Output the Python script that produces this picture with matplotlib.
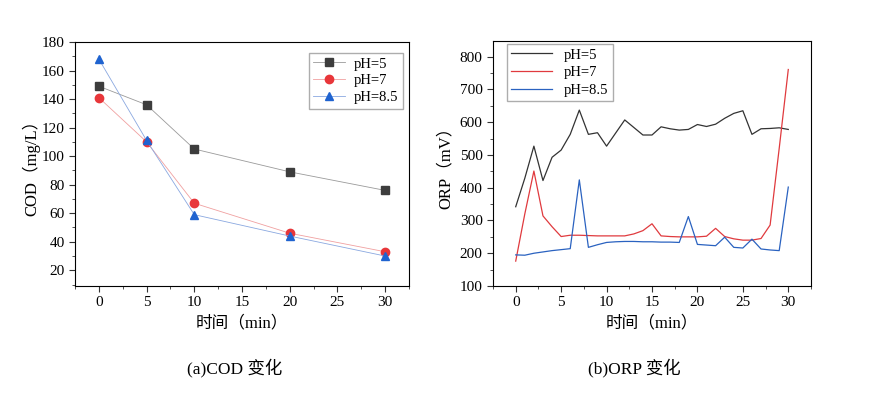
import matplotlib
matplotlib.use("Agg")
import matplotlib.pyplot as plt
from matplotlib.ticker import MultipleLocator

plt.rcParams['font.family'] = ['Liberation Serif', 'Noto Sans CJK SC']
plt.rcParams['axes.unicode_minus'] = False

# COD data
cod_t = [0, 5, 10, 20, 30]
cod_ph5 = [149, 136, 105, 89, 76]
cod_ph7 = [141, 110, 67, 46, 33]
cod_ph85 = [168, 111, 59, 44, 30]

# ORP data
orp_t = list(range(31))
orp_ph5 = [342, 429, 527, 422, 493, 515, 563, 637, 563, 568, 527, 567, 607, 584, 561, 561,
           586, 580, 576, 578, 593, 587, 594, 612, 627, 635, 563, 580, 581, 583, 578]
orp_ph7 = [176, 320, 451, 314, 281, 251, 255, 255, 254, 253, 253, 253, 253, 259, 269, 290,
           253, 251, 250, 250, 250, 252, 276, 251, 244, 240, 240, 245, 286, 520, 761]
orp_ph85 = [195, 194, 200, 204, 208, 211, 214, 424, 218, 226, 233, 235, 236, 236, 235, 235,
            234, 234, 233, 312, 227, 225, 223, 249, 218, 216, 243, 213, 210, 208, 402]

labels = ['pH=5', 'pH=7', 'pH=8.5']

fig = plt.figure(figsize=(8.84, 3.93), dpi=100)
W, H = 884, 393
ax1 = fig.add_axes([75 / W, 1 - 286 / H, (409 - 75) / W, (286 - 42) / H])
ax2 = fig.add_axes([493 / W, 1 - 286 / H, (811 - 493) / W, (286 - 41) / H])

# (a) COD
ax1.plot(cod_t, cod_ph5, color='#9a9a9a', lw=0.6, marker='s', ms=5.5,
         mfc='#3d3d3d', mec='#3d3d3d', label=labels[0])
ax1.plot(cod_t, cod_ph7, color='#f0a0a0', lw=0.6, marker='o', ms=6,
         mfc='#e8363a', mec='#e8363a', label=labels[1])
ax1.plot(cod_t, cod_ph85, color='#8aa8e0', lw=0.6, marker='^', ms=6,
         mfc='#1f63d0', mec='#1f63d0', label=labels[2])
ax1.set_xlim(-2.5, 32.5)
ax1.set_ylim(9, 180)
ax1.xaxis.set_major_locator(MultipleLocator(5))
ax1.xaxis.set_minor_locator(MultipleLocator(2.5))
ax1.yaxis.set_minor_locator(MultipleLocator(10))
ax1.set_yticks(range(20, 181, 20))
ax1.set_xlabel('时间（min）', fontsize=12, labelpad=4)
ax1.set_ylabel('COD（mg/L）', fontsize=12, labelpad=1)
ax1.legend(loc='upper right', bbox_to_anchor=(403 / W, 1 - 53 / H),
           bbox_transform=fig.transFigure, fontsize=10.5, frameon=True,
           fancybox=False, edgecolor='#999999', handlelength=2.2,
           borderaxespad=0, borderpad=0.3, handletextpad=0.6,
           labelspacing=0.25)

# (b) ORP
ax2.plot(orp_t, orp_ph5, color='#333333', lw=0.9, label=labels[0])
ax2.plot(orp_t, orp_ph7, color='#e03a3e', lw=0.9, label=labels[1])
ax2.plot(orp_t, orp_ph85, color='#2a62c0', lw=0.9, label=labels[2])
ax2.set_xlim(-2.5, 32.5)
ax2.set_ylim(100, 848)
ax2.xaxis.set_major_locator(MultipleLocator(5))
ax2.xaxis.set_minor_locator(MultipleLocator(2.5))
ax2.yaxis.set_major_locator(MultipleLocator(100))
ax2.yaxis.set_minor_locator(MultipleLocator(50))
ax2.set_xlabel('时间（min）', fontsize=12, labelpad=4)
ax2.set_ylabel('ORP（mV）', fontsize=12, labelpad=4)
ax2.legend(loc='upper left', bbox_to_anchor=(507 / W, 1 - 44 / H),
           bbox_transform=fig.transFigure, fontsize=10.5, frameon=True,
           fancybox=False, edgecolor='#999999', handlelength=2.8,
           borderaxespad=0, borderpad=0.3, handletextpad=0.8,
           labelspacing=0.3)

for ax in (ax1, ax2):
    ax.tick_params(which='both', direction='out', top=False, right=False,
                   labelsize=11, color='#333333')
    ax.tick_params(which='major', length=4)
    ax.tick_params(which='minor', length=2)
    for s in ax.spines.values():
        s.set_linewidth(0.8)

fig.text(235 / W, 1 - 368 / H, '(a)COD 变化', ha='center', va='center', fontsize=12.5)
fig.text(634 / W, 1 - 368 / H, '(b)ORP 变化', ha='center', va='center', fontsize=12.5)

fig.savefig('out.png', dpi=100)
